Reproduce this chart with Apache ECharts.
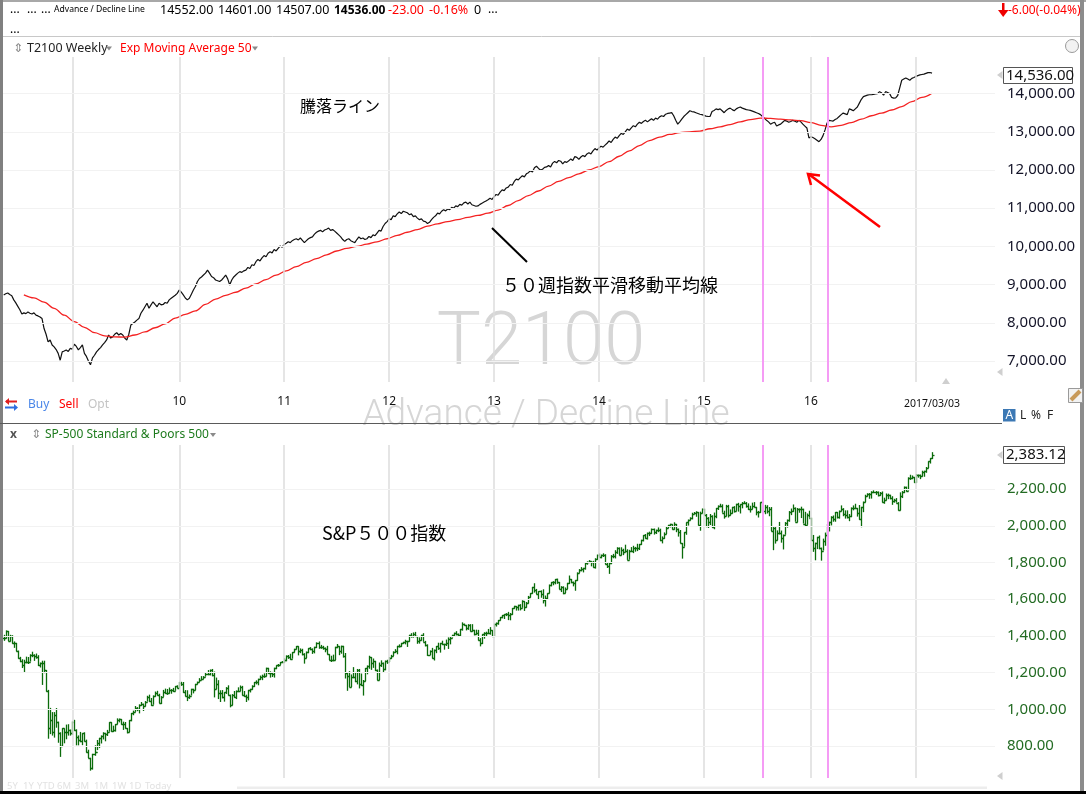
<!DOCTYPE html>
<html><head><meta charset="utf-8">
<script src="https://cdn.jsdelivr.net/npm/echarts@6.0.0/dist/echarts.min.js"></script>
<style>html,body{margin:0;padding:0;background:#fff}#c{width:1086px;height:794px}</style>
</head><body><div id="c"></div>
<script>
const DAY = 864e5, WEEK = 7 * DAY;
function utc(s){ const p = s.split('-').map(Number); return Date.UTC(p[0], p[1]-1, p[2]); }

// ---- weekly data, first bar 2008-05-09, last bar 2017-03-03 ----
const firstWeek = '2008-05-09';

// T2100 Advance / Decline line (weekly close)
const adLine = [
8730,8760,8780,8740,8710,8600,8520,8430,8340,8230,
8260,8240,8280,8250,8230,8260,8200,8180,8150,8110,
7850,7700,7500,7550,7420,7370,7300,7200,7020,7240,
7260,7290,7250,7330,7310,7440,7380,7290,7350,7420,
7200,7120,7000,6900,7080,7150,7240,7300,7350,7420,
7480,7550,7680,7600,7630,7700,7740,7680,7720,7680,
7600,7550,7700,7940,7980,8020,8070,8110,8250,8330,
8420,8510,8380,8470,8550,8480,8420,8510,8470,8480,
8530,8510,8600,8640,8680,8720,8770,8860,8800,8730,
8650,8600,8640,8750,8860,8950,9080,9160,9200,9250,
9300,9380,9300,9210,9180,9120,9100,9080,9120,9180,
9250,9150,8990,9120,9200,9250,9300,9340,9320,9360,
9380,9450,9420,9520,9500,9600,9660,9620,9700,9760,
9730,9820,9860,9830,9920,9880,9950,10010,9980,10050,
10080,10120,10100,10150,10180,10200,10170,10220,10160,10100,
10150,10200,10230,10250,10320,10370,10400,10420,10380,10430,
10450,10480,10420,10440,10400,10350,10300,10250,10180,10130,
10180,10200,10150,10120,10100,10180,10250,10200,10220,10180,
10200,10260,10230,10300,10280,10350,10420,10400,10520,10600,
10650,10720,10700,10800,10780,10850,10900,10860,10920,10900,
10880,10830,10850,10780,10800,10740,10700,10720,10660,10650,
10600,10630,10700,10760,10800,10870,10850,10920,10960,10930,
10980,10960,11020,11000,11060,11040,11100,11080,11140,11160,
11110,11160,11090,11070,11050,11060,11100,11130,11160,11190,
11220,11260,11230,11300,11360,11340,11420,11480,11460,11530,
11550,11620,11600,11700,11760,11740,11800,11850,11820,11900,
11930,11980,11950,12060,12100,12040,12000,12020,12070,12080,
12120,12080,12180,12220,12190,12250,12230,12160,12220,12200,
12240,12290,12250,12350,12330,12280,12340,12380,12350,12420,
12450,12420,12500,12560,12520,12580,12620,12600,12650,12700,
12760,12720,12800,12860,12830,12900,12960,12930,13000,13070,
13040,13100,13160,13130,13200,13250,13220,13270,13300,13260,
13300,13340,13300,13360,13330,13390,13420,13400,13460,13480,
13490,13500,13420,13300,13200,13260,13330,13400,13450,13500,
13550,13530,13520,13500,13480,13460,13450,13430,13410,13400,
13400,13530,13560,13600,13580,13600,13550,13500,13560,13600,
13620,13580,13550,13600,13630,13650,13620,13600,13580,13570,
13560,13540,13520,13500,13480,13450,13400,13350,13300,13260,
13200,13230,13250,13150,13180,13200,13250,13300,13280,13250,
13270,13300,13280,13250,13300,13260,13200,13150,13100,12840,
12870,12850,12820,12780,12740,12800,12900,13050,13230,13300,
13290,13280,13320,13350,13400,13450,13490,13470,13450,13600,
13580,13550,13600,13650,13750,13850,13920,13940,13960,13970,
13970,13980,13990,14000,14050,14020,13960,14050,14030,14000,
13900,13880,13890,13950,14150,14350,14380,14410,14380,14350,
14400,14420,14450,14470,14490,14500,14510,14530,14550,14552,14536
];

// Exp Moving Average 50, read every 5th week starting at week 10
const emaStartWeek = 10, emaStepWeeks = 5;
const ema50 = [
8730,8650,8540,8380,8200,8030,7880,7740,7660,7630,
7625,7680,7760,7870,7970,8120,8220,8310,8480,8620,
8720,8800,8910,9020,9130,9250,9360,9470,9580,9680,
9780,9880,9950,10000,10060,10120,10200,10290,10370,10440,
10530,10590,10650,10700,10760,10810,10870,10950,11070,11200,
11330,11450,11580,11700,11800,11900,12000,12090,12220,12360,
12500,12640,12770,12860,12930,12980,13000,13020,13080,13130,
13190,13260,13320,13360,13350,13330,13310,13290,13240,13170,
13130,13170,13240,13330,13420,13490,13570,13660,13790,13900,
14010
];

// S&P 500 weekly bars
const spClose = [
1388,1425,1375,1400,1360,1360,1318,1278,1262,1239,
1260,1257,1260,1296,1298,1292,1283,1242,1252,1255,
1213,1099,899,940,877,968,930,873,800,896,
876,879,887,873,931,890,850,832,826,869,
827,770,735,683,756,768,816,842,857,870,
866,877,929,882,887,919,940,946,921,918,
896,879,940,979,987,1010,1004,1026,1029,1016,
1042,1068,1044,1025,1071,1087,1080,1036,1069,1093,
1091,1091,1106,1106,1102,1126,1115,1145,1136,1092,
1074,1066,1075,1109,1104,1138,1150,1160,1167,1178,
1194,1192,1217,1187,1111,1136,1088,1089,1065,1092,
1117,1076,1022,1078,1065,1102,1102,1122,1079,1071,
1065,1105,1110,1125,1149,1147,1166,1177,1183,1183,
1225,1200,1200,1190,1225,1240,1244,1257,1258,1271,
1293,1283,1276,1311,1329,1343,1320,1321,1304,1279,
1314,1332,1328,1320,1337,1364,1340,1338,1333,1331,
1300,1271,1271,1268,1340,1344,1316,1345,1292,1199,
1179,1124,1177,1174,1154,1216,1136,1131,1155,1225,
1238,1285,1253,1264,1216,1159,1244,1255,1219,1265,
1258,1278,1289,1315,1316,1345,1343,1361,1366,1370,
1371,1404,1397,1408,1398,1370,1378,1403,1369,1353,
1295,1318,1278,1325,1343,1335,1362,1354,1356,1362,
1385,1391,1405,1418,1411,1407,1438,1466,1460,1441,
1461,1428,1433,1412,1414,1380,1359,1409,1416,1418,
1414,1430,1402,1466,1472,1486,1503,1513,1518,1520,
1516,1518,1551,1561,1556,1569,1553,1588,1555,1582,
1614,1633,1667,1650,1631,1643,1627,1593,1606,1632,
1680,1692,1692,1710,1691,1656,1664,1633,1655,1688,
1710,1692,1690,1703,1745,1760,1762,1771,1798,1805,
1806,1805,1775,1818,1841,1831,1842,1839,1790,1783,
1797,1838,1836,1859,1878,1841,1866,1857,1865,1815,
1864,1863,1881,1878,1878,1900,1924,1949,1936,1963,
1961,1985,1967,1978,1978,1925,1931,1955,1988,2003,
2008,1985,2010,1982,1968,1906,1887,1965,2018,2032,
2040,2064,2068,2075,2003,2071,2089,2058,2045,2019,
2051,1995,2055,2097,2110,2105,2071,2053,2108,2061,
2067,2102,2081,2117,2108,2116,2123,2126,2107,2092,
2094,2110,2102,2076,2077,2127,2080,2104,2078,2092,
1971,1989,1921,1961,1958,1931,1951,2015,2033,2075,
2079,2099,2023,2089,2090,2092,2012,2005,2061,2044,
1922,1880,1907,1940,1880,1865,1918,1948,2000,2022,
2050,2036,2073,2048,2081,2092,2065,2057,2047,2052,
2099,2099,2096,2071,2037,2103,2130,2162,2175,2174,
2183,2184,2184,2169,2180,2128,2139,2165,2168,2153,
2133,2141,2126,2085,2164,2182,2213,2192,2260,2258,
2264,2239,2277,2275,2271,2295,2297,2316,2351,2367,2383
];
const spHigh = [
1406,1430,1427,1406,1404,1370,1362,1320,1286,1273,
1270,1287,1285,1300,1314,1300,1304,1295,1255,1265,
1265,1214,1106,1008,985,985,1007,933,875,897,
896,917,919,890,934,943,891,858,877,870,
875,835,780,736,758,804,833,845,858,875,
872,888,930,930,911,920,951,950,947,933,
931,898,941,980,993,1018,1012,1027,1040,1031,
1045,1074,1080,1062,1076,1097,1101,1085,1072,1106,
1113,1111,1119,1110,1117,1127,1131,1150,1150,1149,
1105,1104,1081,1112,1112,1139,1151,1170,1181,1181,
1198,1214,1217,1220,1206,1173,1159,1104,1105,1093,
1121,1131,1080,1083,1100,1103,1120,1130,1128,1100,
1080,1106,1112,1131,1149,1158,1167,1184,1189,1196,
1227,1226,1207,1204,1227,1240,1247,1258,1263,1278,
1294,1296,1303,1312,1330,1345,1344,1332,1330,1306,
1315,1333,1339,1332,1341,1365,1370,1351,1346,1337,
1346,1300,1292,1298,1341,1356,1344,1347,1346,1307,
1199,1208,1190,1230,1204,1220,1220,1195,1160,1225,
1239,1292,1285,1277,1264,1217,1255,1267,1255,1266,
1270,1285,1297,1316,1328,1346,1354,1362,1368,1379,
1373,1406,1415,1419,1422,1398,1392,1406,1415,1373,
1354,1321,1335,1326,1345,1363,1362,1374,1357,1380,
1392,1394,1406,1418,1426,1413,1438,1474,1467,1460,
1464,1464,1464,1433,1434,1433,1388,1409,1420,1423,
1438,1448,1431,1467,1473,1486,1503,1514,1518,1524,
1531,1525,1552,1564,1563,1570,1573,1594,1589,1585,
1618,1633,1667,1687,1656,1644,1648,1654,1620,1632,
1680,1693,1698,1710,1712,1694,1671,1670,1664,1689,
1729,1710,1696,1704,1746,1764,1775,1771,1802,1806,
1813,1806,1809,1823,1843,1849,1843,1850,1845,1798,
1798,1840,1847,1867,1883,1882,1883,1875,1897,1872,
1869,1884,1891,1885,1902,1901,1924,1949,1955,1963,
1968,1985,1985,1979,1991,1984,1942,1964,1994,2005,
2011,2008,2019,2010,1985,1977,1906,1965,2018,2034,
2046,2071,2075,2079,2075,2077,2094,2093,2064,2047,
2064,2057,2072,2097,2111,2120,2117,2082,2114,2114,
2089,2103,2107,2120,2125,2117,2129,2134,2129,2122,
2109,2126,2129,2103,2081,2128,2133,2114,2112,2102,
2102,1993,1993,1975,2021,1974,1952,2020,2034,2080,
2094,2116,2100,2097,2094,2104,2093,2076,2067,2082,
2044,1950,1908,1940,1947,1881,1930,1963,2009,2022,
2052,2056,2075,2075,2083,2111,2096,2084,2084,2064,
2100,2111,2120,2097,2113,2103,2132,2169,2177,2178,
2188,2193,2189,2187,2184,2187,2153,2176,2175,2169,
2161,2147,2151,2129,2182,2189,2214,2213,2264,2278,
2274,2266,2282,2279,2279,2300,2300,2320,2351,2368,2401
];
const spLow = [
1373,1386,1372,1370,1358,1335,1316,1276,1257,1225,
1200,1251,1247,1260,1284,1264,1276,1236,1228,1133,
1197,1097,840,865,857,846,900,818,741,798,
815,837,857,857,861,883,804,804,821,805,
825,765,734,666,672,747,778,789,814,836,
826,855,878,878,877,879,919,929,917,888,
895,869,876,935,968,986,990,978,1020,991,
1016,1042,1041,1019,1025,1069,1075,1033,1029,1068,
1085,1079,1086,1085,1095,1101,1115,1115,1128,1090,
1071,1045,1057,1075,1087,1104,1136,1148,1160,1165,
1178,1186,1185,1180,1065,1110,1056,1040,1060,1042,
1084,1076,1011,1022,1063,1056,1094,1100,1076,1069,
1040,1049,1092,1107,1122,1136,1131,1160,1159,1172,
1180,1194,1173,1176,1173,1219,1232,1242,1254,1255,
1262,1275,1270,1276,1310,1327,1294,1306,1294,1249,
1279,1306,1322,1302,1305,1334,1330,1330,1325,1311,
1299,1268,1258,1262,1268,1333,1295,1303,1282,1168,
1101,1122,1121,1170,1148,1136,1114,1128,1075,1153,
1191,1221,1215,1226,1209,1158,1159,1231,1202,1213,
1248,1258,1275,1290,1307,1300,1337,1341,1357,1354,
1340,1369,1391,1391,1397,1357,1358,1375,1368,1343,
1291,1295,1277,1266,1306,1324,1309,1350,1325,1345,
1329,1354,1391,1398,1403,1397,1396,1429,1456,1430,
1433,1425,1424,1403,1407,1375,1343,1356,1385,1398,
1411,1407,1398,1398,1451,1461,1484,1496,1492,1508,
1486,1485,1515,1548,1538,1538,1539,1553,1536,1554,
1577,1609,1630,1636,1628,1598,1608,1577,1560,1600,
1632,1670,1676,1681,1684,1654,1639,1627,1633,1655,
1683,1687,1670,1646,1700,1743,1752,1746,1761,1788,
1799,1779,1772,1767,1815,1827,1823,1830,1790,1770,
1738,1791,1823,1822,1847,1839,1839,1840,1857,1814,
1815,1859,1851,1859,1862,1868,1896,1915,1930,1925,
1944,1956,1952,1955,1965,1916,1904,1929,1955,1988,
1991,1980,1979,1965,1941,1905,1821,1886,1951,2001,
2030,2035,2064,2049,2002,1973,2069,2057,1992,1988,
2004,1989,1981,2041,2086,2101,2071,2039,2053,2045,
2056,2067,2072,2081,2077,2067,2095,2119,2099,2086,
2072,2091,2101,2057,2045,2070,2078,2063,2067,2052,
1971,1867,1903,1921,1953,1908,1871,1951,1990,2022,
2058,2076,2022,2019,2071,2042,2012,1994,2005,2044,
1918,1858,1812,1873,1872,1810,1865,1891,1937,1969,
2002,2022,2022,2040,2039,2079,2052,2039,2040,2025,
2047,2084,2095,2050,2033,1992,2074,2128,2159,2147,
2148,2178,2168,2160,2163,2127,2120,2139,2145,2144,
2114,2126,2126,2083,2084,2151,2178,2187,2192,2250,
2254,2234,2234,2262,2254,2268,2267,2289,2314,2339,2364
];

// axis ticks / labels
const yearLineDates = ['2009-01-02','2010-01-08','2011-01-07','2012-01-06','2013-01-04','2014-01-03','2015-01-02','2016-01-08','2017-01-06'];
const xLabelDates = ['2010-01-08','2011-01-07','2012-01-06','2013-01-04','2014-01-03','2015-01-02','2016-01-08','2017-03-03'];
const xLabels = ['10','11','12','13','14','15','16','2017/03/03'];
const adTicks = [7000,8000,9000,10000,11000,12000,13000,14000];
const spTicks = [800,1000,1200,1400,1600,1800,2000,2200];
const markerDates = ['2015-07-24','2016-03-07'];
const adLast = '14,536.00', spLast = '2,383.12';

// ---- build ----
const START = utc(firstWeek);
const X0 = utc('2009-01-02');
const X_MIN = X0 - 240.4 * DAY, X_MAX = X0 + 3200.5 * DAY;
const wk = i => START + i * WEEK;
const adData = adLine.map((v, i) => [wk(i), v]);
const emaData = ema50.map((v, k) => [wk(emaStartWeek + k * emaStepWeeks), v]);
const spData = spClose.map((c, i) => [wk(i), i === 0 ? c : spClose[i - 1], c, spLow[i], spHigh[i]]);
const yearTs = yearLineDates.map(utc);
const xLabelTs = xLabelDates.map(utc);
const markerTs = markerDates.map(utc);
function fmt(v){ return String(v).replace(/\B(?=(\d{3})+(?!\d))/g, ',') + '.00'; }

function gridLines(hTicks){
  return [].concat(
    yearTs.map(t => ({ xAxis: t, lineStyle: { color: '#dcdcdc', width: 1.5, type: 'solid' } })),
    hTicks.map(v => ({ yAxis: v, lineStyle: { color: '#f2f2f2', width: 1, type: 'solid' } })),
    markerTs.map(t => ({ xAxis: t, lineStyle: { color: '#f59cf5', width: 2, type: 'solid' } }))
  );
}
const mlBase = { silent: true, symbol: ['none','none'], label: { show: false }, animation: false, emphasis: { disabled: true } };

// ---- decorations ----
const G = [];
const FF = 'Noto Sans', JP = 'Noto Sans CJK JP';
function T(x, y, text, o){ o = o || {}; G.push({ type: 'text', x: x, y: y, z: o.z == null ? 100 : o.z, silent: true,
  style: { text: text, fill: o.c || '#000', fontSize: o.s || 12, fontFamily: o.f || FF, fontWeight: o.w || 'normal',
    align: o.a || 'left', textAlign: o.a || 'left', verticalAlign: 'middle', textVerticalAlign: 'middle' } }); }
function R(x, y, w, h, fill, stroke, lw){ G.push({ type: 'rect', z: 90, silent: true, shape: { x: x, y: y, width: w, height: h },
  style: { fill: fill || null, stroke: stroke || null, lineWidth: lw || 1 } }); }
function P(pts, stroke, lw){ G.push({ type: 'polyline', z: 100, silent: true, shape: { points: pts }, style: { stroke: stroke, lineWidth: lw || 1, fill: null } }); }
function TRI(pts, fill){ G.push({ type: 'polygon', z: 100, silent: true, shape: { points: pts }, style: { fill: fill } }); }

// frame
R(0, 0, 1086, 2, '#a8a8a8');
R(0, 0, 3, 794, '#808080');
R(1080, 0, 4, 794, '#8c8c8c');
R(0, 791, 1086, 3, '#000');
P([[3, 36.5], [1080, 36.5]], '#c8c8c8', 1);
// header row
T(10, 10, '...', { s: 12 }); T(27, 10, '...', { s: 12 }); T(41, 10, '...', { s: 12 });
T(54, 10, 'Advance / Decline Line', { s: 8.6 });
T(160, 10.5, '14552.00', { s: 12.5 }); T(218, 10.5, '14601.00', { s: 12.5 }); T(276, 10.5, '14507.00', { s: 12.5 });
T(334, 10.5, '14536.00', { s: 12, w: 'bold' });
T(388, 10.5, '-23.00', { s: 12.5, c: '#f00' }); T(429, 10.5, '-0.16%', { s: 12.5, c: '#f00' });
T(474, 10.5, '0', { s: 12.5 }); T(488, 10, '...', { s: 12 });
T(10, 30, '...', { s: 12 });
R(1002, 3, 2.5, 8, '#e00'); TRI([[998, 10], [1008.5, 10], [1003.2, 17]], '#e00');
T(1008, 10.5, '-6.00(-0.04%)', { s: 12, c: '#f00' });
// pane 1 header
T(13, 48.5, '⇕', { s: 12, c: '#8a8a8a', f: 'DejaVu Sans' });
T(27, 48.5, 'T2100 Weekly', { s: 12.5, c: '#222' });
TRI([[106, 46.5], [112, 46.5], [109, 50.5]], '#8a8a8a');
T(120, 48.5, 'Exp Moving Average 50', { s: 12, c: '#f00' });
TRI([[252, 46.5], [258, 46.5], [255, 50.5]], '#8a8a8a');
G.push({ type: 'circle', z: 95, silent: true, shape: { cx: 1072, cy: 46, r: 6.5 }, style: { fill: '#f2f2f2', stroke: '#9a9a9a', lineWidth: 1 } });
R(1070, 41, 3, 3, '#e03030'); R(1074, 44, 3, 3, '#3070e0'); R(1071, 48, 3, 3, '#30a030'); R(1067, 44, 3, 3, '#e0b020');
// price boxes & side markers
R(1003.5, 67.5, 69, 16, '#fff', '#555');
T(1006, 75.5, adLast, { s: 15, c: '#111' });
R(1003.5, 446.5, 61, 17, '#fff', '#555');
T(1006, 455, spLast, { s: 15, c: '#111' });
[75, 372, 455, 776].forEach(y => TRI([[1002.5, y - 4], [1002.5, y + 4], [997, y]], '#cfcfcf'));
TRI([[942, 384], [950, 384], [946, 378]], '#cfcfcf');
// between panes
P([[17, 401.5], [6, 401.5]], '#e02020', 2); TRI([[5, 401.5], [9, 398], [9, 405]], '#e02020');
P([[5, 407.5], [16, 407.5]], '#2f6fe0', 2); TRI([[18, 407.5], [14, 404], [14, 411]], '#2f6fe0');
T(28, 405, 'Buy', { s: 12, c: '#4a86e8' });
T(59, 405, 'Sell', { s: 12, c: '#f00' });
T(88, 405, 'Opt', { s: 12, c: '#c4c4c4' });
P([[0, 423.5], [1002, 423.5]], '#5a5a5a', 1);
R(1003, 409, 12.5, 12.5, '#3c78b4');
T(1009.3, 415.5, 'A', { s: 12, c: '#fff', a: 'center' });
T(1020, 415.5, 'L', { s: 12, c: '#222' }); T(1031, 415.5, '%', { s: 12, c: '#222' }); T(1047, 415.5, 'F', { s: 12, c: '#222' });
R(1068.5, 388.5, 14, 14, '#f2f2f2', '#9a9a9a');
P([[1071, 400], [1080, 391]], '#c89a5a', 4);
// pane 2 header
T(10, 435, 'x', { s: 12, c: '#555', w: 'bold' });
T(31, 435, '⇕', { s: 12, c: '#8a8a8a', f: 'DejaVu Sans' });
T(45, 435, 'SP-500 Standard & Poors 500', { s: 12, c: '#1e7b1e' });
TRI([[210, 433], [216, 433], [213, 437]], '#8a8a8a');
// bottom range buttons (faint)
[['5Y', 7], ['1Y', 23], ['YTD', 37], ['6M', 57], ['3M', 75], ['1M', 94], ['1W', 112], ['1D', 129], ['Today', 145]]
  .forEach(a => T(a[1], 786, a[0], { s: 9.5, c: '#e2e2e2' }));
R(237, 786.5, 750, 2.5, '#ededed');
// watermarks
T(541, 345, 'T2100', { s: 74, c: '#d6d6d6', f: 'Roboto', w: 300, a: 'center', z: 0 });
T(546, 416, 'Advance / Decline Line', { s: 37, c: '#d6d6d6', f: 'Roboto', w: 300, a: 'center', z: 0 });
// Japanese annotations
T(300, 106, '騰落ライン', { s: 16, f: JP });
T(502, 285, '５０週指数平滑移動平均線', { s: 18, f: JP });
T(322, 533, 'S&P５００指数', { s: 18, f: JP });
P([[492, 228], [527, 262]], '#000', 2);
P([[880, 227], [808.5, 174]], '#f00', 2.5);
P([[820, 175.5], [808, 174], [811, 185]], '#f00', 2.5);

const xLabelFmt = function (v) {
  let k = -1; xLabelTs.forEach((t, j) => { if (Math.abs(t - v) < DAY) k = j; });
  if (k < 0) return '';
  return k === xLabels.length - 1 ? '{d|' + xLabels[k] + '}' : xLabels[k];
};

const option = {
  animation: false,
  backgroundColor: '#fff',
  textStyle: { fontFamily: FF },
  grid: [
    { left: 3, right: 91, top: 57, height: 325 },
    { left: 3, right: 91, top: 445, height: 333 }
  ],
  xAxis: [
    { type: 'value', gridIndex: 0, min: X_MIN, max: X_MAX, axisLine: { show: false }, axisTick: { show: false }, splitLine: { show: false },
      axisLabel: { customValues: xLabelTs, color: '#111', fontSize: 12, margin: 14, hideOverlap: false, formatter: xLabelFmt,
        rich: { d: { fontSize: 10.5, color: '#111', padding: [3, 0, 0, 0] } } } },
    { type: 'value', gridIndex: 1, min: X_MIN, max: X_MAX, axisLine: { show: false }, axisTick: { show: false }, splitLine: { show: false }, axisLabel: { show: false } }
  ],
  yAxis: [
    { type: 'value', gridIndex: 0, position: 'right', min: 6450, max: 14958, axisLine: { show: false }, axisTick: { show: false }, splitLine: { show: false },
      axisLabel: { customValues: adTicks, formatter: fmt, color: '#141428', fontSize: 15, margin: 12 } },
    { type: 'value', gridIndex: 1, position: 'right', min: 626, max: 2440, axisLine: { show: false }, axisTick: { show: false }, splitLine: { show: false },
      axisLabel: { customValues: spTicks, formatter: fmt, color: '#236b23', fontSize: 15, margin: 12 } }
  ],
  series: [
    { type: 'line', xAxisIndex: 0, yAxisIndex: 0, z: 1, data: [[X_MIN, null]], symbol: 'none', silent: true,
      markLine: Object.assign({ data: gridLines(adTicks) }, mlBase) },
    { type: 'line', xAxisIndex: 1, yAxisIndex: 1, z: 1, data: [[X_MIN, null]], symbol: 'none', silent: true,
      markLine: Object.assign({ data: gridLines(spTicks) }, mlBase) },
    { name: 'T2100 Weekly', type: 'line', xAxisIndex: 0, yAxisIndex: 0, z: 3, data: adData, symbol: 'none', silent: true,
      lineStyle: { color: '#111', width: 1.2 } },
    { name: 'Exp Moving Average 50', type: 'line', xAxisIndex: 0, yAxisIndex: 0, z: 4, data: emaData, symbol: 'none', silent: true,
      smooth: 0.35, smoothMonotone: 'x', lineStyle: { color: '#f42222', width: 1.3 } },
    { name: 'SP-500', type: 'custom', xAxisIndex: 1, yAxisIndex: 1, z: 3, data: spData, silent: true,
      encode: { x: 0, y: [1, 2, 3, 4] },
      renderItem: function (params, api) {
        const t = api.value(0);
        const pO = api.coord([t, api.value(1)]), pC = api.coord([t, api.value(2)]);
        const pL = api.coord([t, api.value(3)]), pH = api.coord([t, api.value(4)]);
        const x = Math.round(pH[0]) + 0.5;
        const st = { stroke: '#0b6b0b', lineWidth: 1.3 };
        return { type: 'group', children: [
          { type: 'line', shape: { x1: x, y1: pH[1], x2: x, y2: pL[1] }, style: st },
          { type: 'line', shape: { x1: x - 2, y1: Math.round(pO[1]) + 0.5, x2: x, y2: Math.round(pO[1]) + 0.5 }, style: st },
          { type: 'line', shape: { x1: x, y1: Math.round(pC[1]) + 0.5, x2: x + 2, y2: Math.round(pC[1]) + 0.5 }, style: st }
        ] };
      } }
  ],
  graphic: { elements: G }
};
const chart = echarts.init(document.getElementById('c'), null, { renderer: 'canvas' });
chart.setOption(option);
</script>
</body></html>
